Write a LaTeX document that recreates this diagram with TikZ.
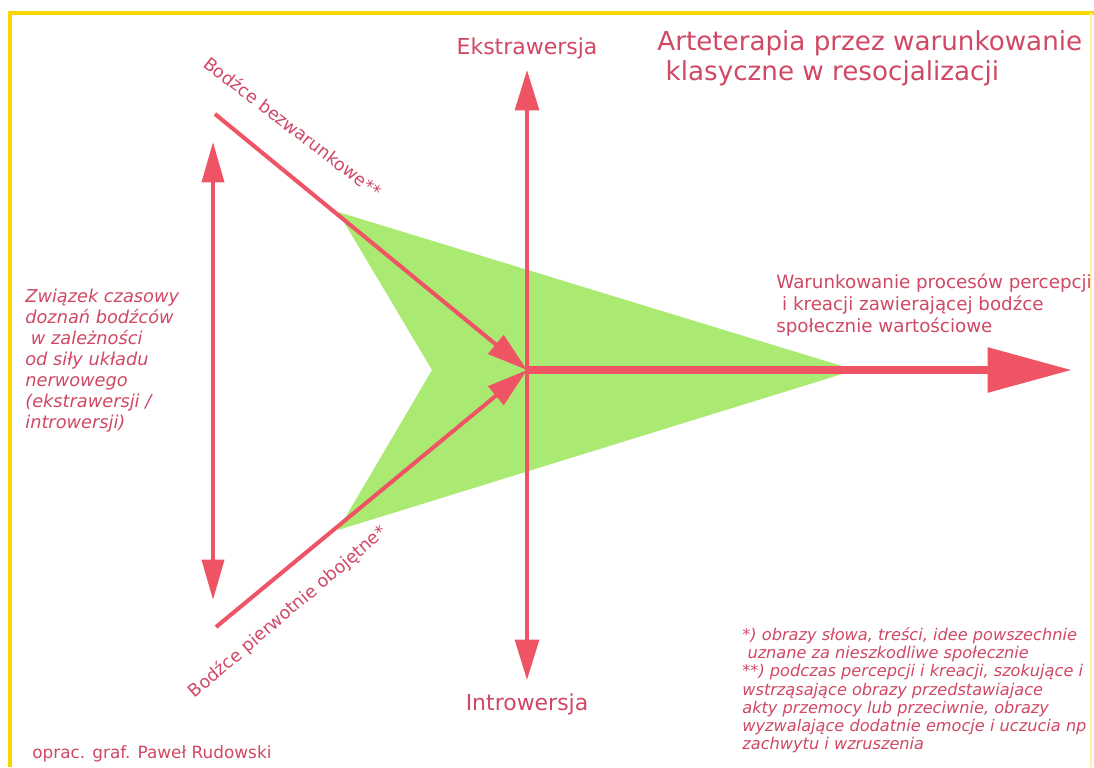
\documentclass[tikz,border=0pt]{standalone}
\usepackage{fontspec}
\setmainfont{DejaVu Sans}
\usetikzlibrary{arrows.meta}
\definecolor{arrred}{RGB}{238,84,100}
\definecolor{txtred}{RGB}{208,72,100}
\definecolor{fieldgreen}{RGB}{170,234,115}
\definecolor{frameyellow}{RGB}{250,214,0}

\begin{document}
\begin{tikzpicture}[x=0.02cm, y=-0.02cm,
		redline/.style={draw=arrred, line width=2.3pt},
		smallhead/.style={-{Triangle[length=23pt, width=13.5pt]}},
		lbl/.style={text=txtred, inner sep=0pt},
	]
	\useasboundingbox (0,0) rectangle (1094,767);
	\fill[white] (0,0) rectangle (1094,767);
	\draw[frameyellow, line width=2.6pt] (10,767) -- (10,13) -- (1094,13);
	\draw[frameyellow!35, line width=0.8pt] (1091,13) -- (1091,767);
	
	\coordinate (C) at (527,370);
	\coordinate (ekstraTip) at (527,70);
	\coordinate (introTip) at (527,680);
	\coordinate (wartTip) at (1072,370);
	\coordinate (bezStart) at (215,114);
	\coordinate (obStart) at (216,627);
	\coordinate (czasTop) at (213,142);
	\coordinate (czasBot) at (213,600);
	
	\fill[fieldgreen] (338,212) -- (855,370) -- (338,530) -- (432,370) -- cycle;
	
	\draw[redline, {Triangle[length=23pt, width=13.5pt]}-{Triangle[length=23pt, width=13.5pt]}]
		(introTip) -- (ekstraTip);
	\draw[redline, {Triangle[length=23pt, width=12.5pt]}-{Triangle[length=23pt, width=12.5pt]}]
		(czasTop) -- (czasBot);
	\draw[redline, smallhead] (bezStart) -- (C);
	\draw[redline, smallhead] (obStart) -- (C);
	\draw[draw=arrred, line width=5pt, -{Triangle[length=48pt, width=24.5pt]}] (C) -- (wartTip);
	
	\node[lbl, font=\fontsize{12.5}{15}\selectfont, anchor=base] (ekstra) at (527,55) {Ekstrawersja};
	\node[lbl, font=\fontsize{12.5}{15}\selectfont, anchor=base] (intro) at (527,710) {Introwersja};
	
	\node[lbl, font=\fontsize{14.9}{17}\selectfont, anchor=north west, align=left] (title) at (657,30)
		{Arteterapia przez warunkowanie\\ \ klasyczne w resocjalizacji};
	
	\node[lbl, font=\itshape\fontsize{10.1}{11.9}\selectfont, anchor=north west, align=left] (czas) at (25,289)
		{Związek czasowy\\doznań bodźców\\ \ w zależności\\od siły układu\\nerwowego\\(ekstrawersji /\\introwersji)};
	
	\node[lbl, font=\fontsize{10.4}{12.5}\selectfont, anchor=north west, align=left] (wart) at (776,274)
		{Warunkowanie procesów percepcji\\ \ i kreacji zawierającej bodźce\\społecznie wartościowe};
	
	\node[lbl, font=\fontsize{10}{12}\selectfont, rotate=-37.5] (bez) at (293,127) {Bodźce bezwarunkowe**};
	\node[lbl, font=\fontsize{10}{12}\selectfont, rotate=40.5] (ob) at (288,612) {Bodźce pierwotnie obojętne*};
	
	\node[lbl, font=\itshape\fontsize{9.2}{10.4}\selectfont, anchor=north west, align=left] (przyp) at (742,627)
		{*) obrazy słowa, treści, idee powszechnie\\ \ uznane za nieszkodliwe społecznie\\**) podczas percepcji i kreacji, szokujące i\\wstrząsające obrazy przedstawiajace\\akty przemocy lub przeciwnie, obrazy\\wyzwalające dodatnie emocje i uczucia np\\zachwytu i wzruszenia};
	
	\node[lbl, font=\fontsize{9.6}{12}\selectfont, anchor=base west] (autor) at (32,758) {oprac. graf. Paweł Rudowski};
\end{tikzpicture}
\end{document}
